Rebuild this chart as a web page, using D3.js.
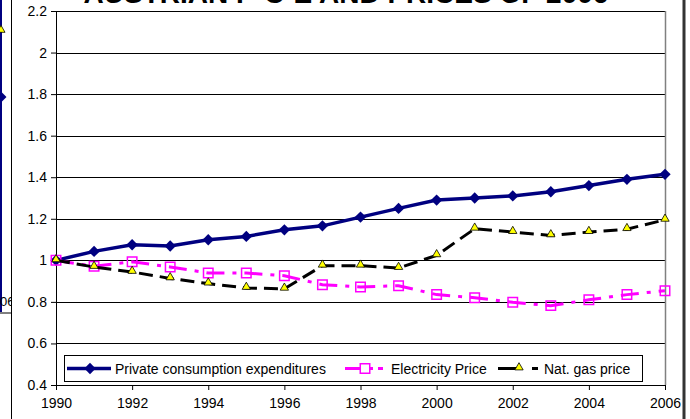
<!DOCTYPE html>
<html>
<head>
<meta charset="utf-8">
<script src="https://cdn.jsdelivr.net/npm/d3@7"></script>
<style>
  body { margin: 0; background: #fff; }
  svg text { font-family: "Liberation Sans", Arial, sans-serif; }
</style>
</head>
<body>
<svg id="chart" width="690" height="419"></svg>
<script>
// data
var years = [1990,1991,1992,1993,1994,1995,1996,1997,1998,1999,2000,2001,2002,2003,2004,2005,2006];
var privateConsumption = [1.00,1.043,1.075,1.069,1.099,1.115,1.147,1.166,1.208,1.25,1.29,1.30,1.31,1.33,1.36,1.39,1.414];
var electricityPrice   = [1.00,0.971,0.993,0.968,0.939,0.939,0.926,0.883,0.872,0.878,0.835,0.82,0.798,0.782,0.81,0.835,0.854];
var gasPrice           = [1.00,0.968,0.944,0.913,0.888,0.867,0.863,0.974,0.974,0.963,1.024,1.152,1.136,1.12,1.136,1.15,1.195];
var xTicks = [1990,1992,1994,1996,1998,2000,2002,2004,2006];
var yTicks = [0.4,0.6,0.8,1,1.2,1.4,1.6,1.8,2,2.2];
var seriesNames = ["Private consumption expenditures", "Electricity Price", "Nat. gas price"];

var svg = d3.select("#chart");
var margin = { top: 11, right: 25, bottom: 34, left: 56 },
    width = 690 - margin.left - margin.right,
    height = 419 - margin.top - margin.bottom;

// bits of the neighbouring chart and frame
svg.append("line").attr("x1", 1).attr("x2", 1).attr("y1", 0).attr("y2", 312)
   .attr("stroke", "#000080").attr("stroke-width", 2);
svg.append("path").attr("d", d3.symbol(d3.symbolSquare, 60)())
   .attr("transform", "translate(1,97) rotate(45)").attr("fill", "#000080");
svg.append("path").attr("d", d3.symbol(d3.symbolTriangle, 28)())
   .attr("transform", "translate(1,30)").attr("fill", "#ffff00").attr("stroke", "#000").attr("stroke-width", 0.8);
svg.append("text").attr("x", 0).attr("y", 306).attr("font-size", 13).text("06");
svg.append("rect").attr("x", 11).attr("y", 290).attr("width", 6).attr("height", 20).attr("fill", "#fff");
svg.append("line").attr("x1", 0).attr("x2", 11).attr("y1", 313).attr("y2", 313).attr("stroke", "#000");
svg.append("line").attr("x1", 11.5).attr("x2", 11.5).attr("y1", 0).attr("y2", 419).attr("stroke", "#000");
svg.append("line").attr("x1", 684).attr("x2", 684).attr("y1", 0).attr("y2", 419).attr("stroke", "#333").attr("stroke-width", 3);

// title, mostly cut off at the top
svg.append("text").attr("x", 346).attr("y", 3).attr("text-anchor", "middle")
   .attr("font-size", 28).attr("font-weight", "bold").text("AUSTRIAN P-C-E AND PRICES OF 2006");

var root = svg.append("g").attr("transform", "translate(" + margin.left + "," + margin.top + ")");

var x_scale = d3.scaleLinear().domain([1990, 2006]).range([0, width]);
var y_scale = d3.scaleLinear().domain([0.4, 2.2]).range([height, 0]);

// grid
root.append("g").selectAll("line").data(yTicks.slice(1)).join("line")
    .attr("x1", 0).attr("x2", width)
    .attr("y1", function (d) { return Math.round(y_scale(d)) + 0.5; })
    .attr("y2", function (d) { return Math.round(y_scale(d)) + 0.5; })
    .attr("stroke", "#000").attr("stroke-width", 1);
root.append("line").attr("x1", width + 0.5).attr("x2", width + 0.5).attr("y1", 0).attr("y2", height)
    .attr("stroke", "#808080").attr("stroke-width", 1.5);

var xAxis = d3.axisBottom(x_scale).tickValues(xTicks).tickFormat(d3.format("d")).tickSize(5).tickPadding(8);
var yAxis = d3.axisLeft(y_scale).tickValues(yTicks).tickFormat(function (d) { return String(+d.toFixed(1)); }).tickSize(5).tickPadding(4);

root.append("g").attr("class", "xAxis").attr("transform", "translate(0," + height + ")").call(xAxis);
root.append("g").attr("class", "yAxis").call(yAxis);
root.selectAll(".xAxis .domain, .yAxis .domain").attr("stroke", "#000");
root.selectAll(".tick text").attr("font-size", 14).attr("fill", "#000")
    .attr("font-family", "Liberation Sans, Arial, sans-serif");
root.selectAll(".tick line").attr("stroke", "#000");

function lineOf(values) {
  return d3.line().x(function (d, i) { return x_scale(years[i]); }).y(function (d) { return y_scale(d); })(values);
}

var diamond = d3.symbol(d3.symbolSquare, 64)();
var square = d3.symbol(d3.symbolSquare, 90)();
var triangle = d3.symbol(d3.symbolTriangle, 30)();

// private consumption
root.append("path").attr("d", lineOf(privateConsumption)).attr("fill", "none")
    .attr("stroke", "#000080").attr("stroke-width", 3.5);
root.append("g").selectAll("path").data(privateConsumption).join("path")
    .attr("d", diamond).attr("fill", "#000080")
    .attr("transform", function (d, i) { return "translate(" + x_scale(years[i]) + "," + y_scale(d) + ") rotate(45)"; });

// electricity
root.append("path").attr("d", lineOf(electricityPrice)).attr("fill", "none")
    .attr("stroke", "#ff00ff").attr("stroke-width", 3).attr("stroke-dasharray", "18,8,4,8");
root.append("g").selectAll("path").data(electricityPrice).join("path")
    .attr("d", square).attr("fill", "none").attr("stroke", "#ff00ff").attr("stroke-width", 1.5)
    .attr("transform", function (d, i) { return "translate(" + x_scale(years[i]) + "," + y_scale(d) + ")"; });

// gas
root.append("path").attr("d", lineOf(gasPrice)).attr("fill", "none")
    .attr("stroke", "#000").attr("stroke-width", 3).attr("stroke-dasharray", "14,7");
root.append("g").selectAll("path").data(gasPrice).join("path")
    .attr("d", triangle).attr("fill", "#ffff00").attr("stroke", "#000").attr("stroke-width", 0.8)
    .attr("transform", function (d, i) { return "translate(" + x_scale(years[i]) + "," + (y_scale(d) - 1) + ")"; });

// legend
var legend = svg.append("g");
legend.append("rect").attr("x", 64.5).attr("y", 355.5).attr("width", 578).attr("height", 26)
      .attr("fill", "#fff").attr("stroke", "#000");
var ly = 368.5;
legend.append("line").attr("x1", 67).attr("x2", 111).attr("y1", ly).attr("y2", ly).attr("stroke", "#000080").attr("stroke-width", 3.5);
legend.append("path").attr("d", diamond).attr("fill", "#000080").attr("transform", "translate(90," + ly + ") rotate(45)");
legend.append("line").attr("x1", 345).attr("x2", 373).attr("y1", ly).attr("y2", ly).attr("stroke", "#ff00ff").attr("stroke-width", 3);
legend.append("line").attr("x1", 378).attr("x2", 383).attr("y1", ly).attr("y2", ly).attr("stroke", "#ff00ff").attr("stroke-width", 3);
legend.append("path").attr("d", square).attr("fill", "#fff").attr("stroke", "#ff00ff").attr("stroke-width", 1.5).attr("transform", "translate(365," + ly + ")");
legend.append("line").attr("x1", 498).attr("x2", 518).attr("y1", ly).attr("y2", ly).attr("stroke", "#000").attr("stroke-width", 3);
legend.append("line").attr("x1", 532).attr("x2", 538).attr("y1", ly).attr("y2", ly).attr("stroke", "#000").attr("stroke-width", 3);
legend.append("path").attr("d", triangle).attr("fill", "#ffff00").attr("stroke", "#000").attr("stroke-width", 0.8).attr("transform", "translate(519," + (ly - 1) + ")");
legend.selectAll("text.lab").data(seriesNames).join("text").attr("class", "lab")
      .attr("x", function (d, i) { return [115, 391, 544][i]; })
      .attr("y", ly + 5).attr("font-size", 14).text(function (d) { return d; });
</script>
</body>
</html>
